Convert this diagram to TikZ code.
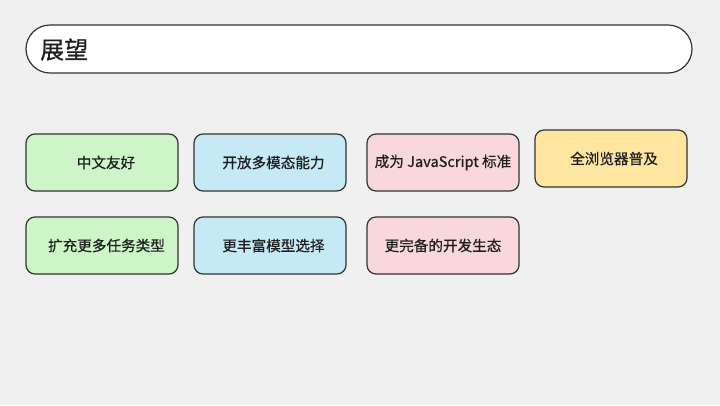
\documentclass[tikz,border=0pt]{standalone}
\usepackage{fontspec}
\setmainfont{Noto Sans CJK SC}
\newfontfamily\cardfont[FakeBold=0.6]{Noto Sans CJK SC}
\definecolor{bg}{HTML}{F0F0F0}
\definecolor{edge}{HTML}{333333}
\definecolor{cgreen}{HTML}{CDF5C8}
\definecolor{cblue}{HTML}{C6EAF5}
\definecolor{cpink}{HTML}{F8D8DB}
\definecolor{cyellow}{HTML}{FFE6A0}
\tikzset{
  card/.style={draw=edge, line width=1.2pt, rounded corners=9pt,
    minimum width=152pt, minimum height=57pt, inner sep=0pt},
  cardtext/.style={font=\cardfont\fontsize{14.6pt}{17pt}\selectfont, text=black!88, inner sep=0pt},
}
\begin{document}
\begin{tikzpicture}[x=1pt,y=-1pt]
\fill[bg] (0,0) rectangle (720,405);
\useasboundingbox (0,0) rectangle (720,405);
% title bar
\draw[draw=edge, line width=1.2pt, fill=white, rounded corners=24pt] (26,25) rectangle (692,73);
\node[anchor=west, inner sep=0pt, text=black!88, font=\cardfont\fontsize{24pt}{28pt}\selectfont] (title) at (40,49.5) {展望};
% cards
\node[card, fill=cgreen] (c1) at (102,162.5) {};
\node[cardtext] (t1) at (106,162.5) {中文友好};
\node[card, fill=cblue] (c2) at (270,162.5) {};
\node[cardtext] (t2) at (273.5,162.5) {开放多模态能力};
\node[card, fill=cpink] (c3) at (443,162.5) {};
\node[cardtext] (t3) at (443,162.5) {成为 JavaScript 标准};
\node[card, fill=cyellow] (c4) at (611,158.5) {};
\node[cardtext] (t4) at (614,158.5) {全浏览器普及};
\node[card, fill=cgreen] (c5) at (102,245.5) {};
\node[cardtext] (t5) at (106.5,245.5) {扩充更多任务类型};
\node[card, fill=cblue] (c6) at (270,245.5) {};
\node[cardtext] (t6) at (273.5,245.5) {更丰富模型选择};
\node[card, fill=cpink] (c7) at (443,245.5) {};
\node[cardtext] (t7) at (443,245.5) {更完备的开发生态};
\end{tikzpicture}
\end{document}
